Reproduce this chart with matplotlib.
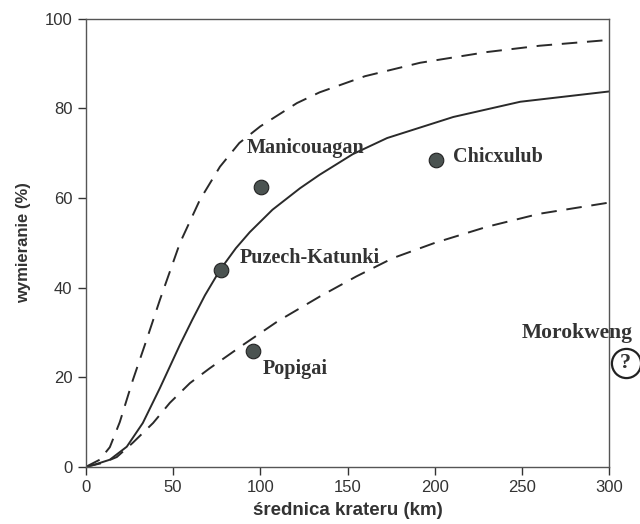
import matplotlib.pyplot as plt

# curve points (diameter km, extinction %)
solid_x = [0, 5, 13.8, 23.5, 32.7, 42.5, 53.9, 61, 68.3, 77, 86, 94, 107, 122.8,
           134, 153, 172.7, 210.6, 249, 300]
solid_y = [0, 0.5, 1.6, 4.5, 9.8, 17.6, 27.2, 32.8, 38.3, 44, 48.8, 52.4, 57.4, 62.2,
           65.2, 69.8, 73.4, 78.1, 81.5, 83.8]

upper_x = [0, 8, 13.8, 19.5, 27, 34.8, 42.5, 54, 65.4, 76.9, 88, 100, 121, 134,
           160, 191.6, 230, 260, 300]
upper_y = [0, 1.6, 4.4, 10, 19.4, 28.3, 37.3, 50, 59.6, 67, 72.3, 76, 81.2, 83.6,
           87.2, 90.2, 92.6, 94, 95.3]

lower_x = [0, 9.8, 17.8, 27, 38.6, 48.2, 59.7, 71, 90, 110, 134, 155, 176, 200,
           230, 260, 300]
lower_y = [0, 0.9, 2.2, 5.4, 9.8, 14.3, 18.7, 22, 27.2, 32.5, 38, 42.5, 46.6, 50,
           53.6, 56.5, 59]

craters = ['Manicouagan', 'Chicxulub', 'Puzech-Katunki', 'Popigai']
crater_x = [100.4, 200.8, 77.5, 95.8]
crater_y = [62.5, 68.5, 44, 25.9]

x_ticks = [0, 50, 100, 150, 200, 250, 300]
y_ticks = [0, 20, 40, 60, 80, 100]

fig = plt.figure(figsize=(6.4, 5.24), dpi=100)
ax = fig.add_axes([0.134, 0.109, 0.818, 0.855])

line_col = '#2a2a2a'
ax.plot(solid_x, solid_y, color=line_col, lw=1.4, solid_joinstyle='round')
ax.plot(upper_x, upper_y, color=line_col, lw=1.4, dashes=(8, 5),
        dash_joinstyle='round')
ax.plot(lower_x, lower_y, color=line_col, lw=1.4, dashes=(8, 5),
        dash_joinstyle='round')

ax.plot(crater_x, crater_y, 'o', ms=10.5, color='#4b5351', mec='#222222', mew=0.8,
        zorder=3)

serif = dict(family='Liberation Serif', weight='bold', color='#333333')
ax.text(92.4, 71.2, craters[0], va='center', ha='left', size=14.5, **serif)
ax.text(210.5, 69.2, craters[1], va='center', ha='left', size=14.5, **serif)
ax.text(88, 46.7, craters[2], va='center', ha='left', size=14.5, **serif)
ax.text(101.5, 21.8, craters[3], va='center', ha='left', size=14.5, **serif)
ax.text(281.5, 29.9, 'Morokweng', va='center', ha='center', clip_on=False,
        size=15.5, **serif)

# Morokweng - unknown value, circled question mark
ax.plot([309.3], [23.1], 'o', ms=21, mfc='white', mec='#222222', mew=1.6,
        clip_on=False, zorder=4)
ax.text(309.3, 23.1, '?', va='center', ha='center', clip_on=False, zorder=5,
        size=16, **serif)

ax.set_xlim(0, 300)
ax.set_ylim(0, 100)
ax.set_xticks(x_ticks)
ax.set_yticks(y_ticks)
ax.tick_params(labelsize=12, colors='#333333', length=6, width=1, direction='out',
               labelcolor='#333333')
for lab in ax.get_xticklabels() + ax.get_yticklabels():
    lab.set_family('Liberation Sans')
for sp in ax.spines.values():
    sp.set_color('#555555')
    sp.set_linewidth(1)

ax.set_xlabel('średnica krateru (km)', family='Liberation Sans', weight='bold',
              size=13.5, color='#333333', labelpad=5)
ax.set_ylabel('wymieranie (%)', family='Liberation Sans', weight='bold',
              size=12, color='#333333', labelpad=10)

fig.savefig('out.png', dpi=100)
